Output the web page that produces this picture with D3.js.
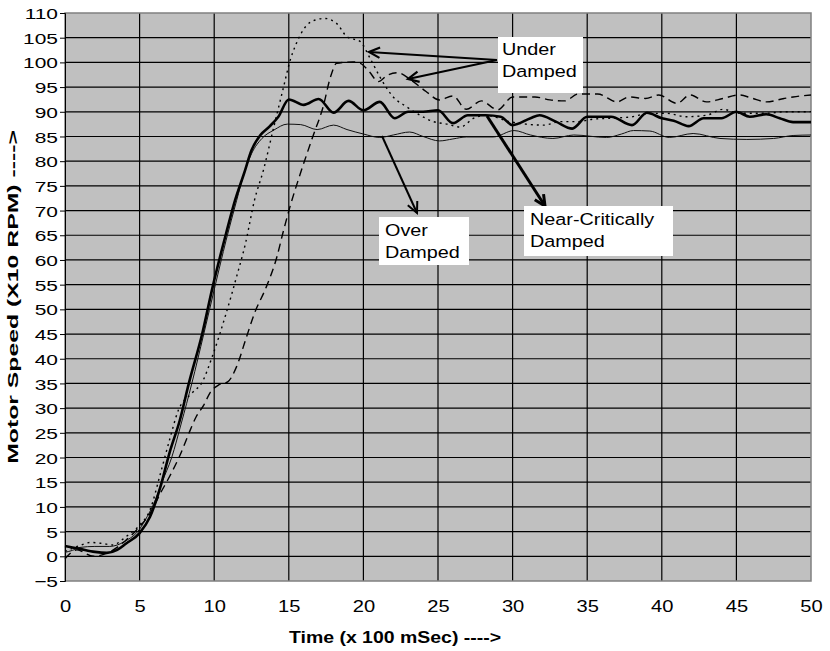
<!DOCTYPE html>
<html><head><meta charset="utf-8">
<script src="https://cdn.jsdelivr.net/npm/d3@7"></script>
<style>
body{margin:0;background:#fff;}
svg{display:block;font-family:"Liberation Sans",Arial,sans-serif;}
</style></head>
<body><svg id="c" width="830" height="651"></svg>
<script>
// ---- data ----
const xTicks = [0,5,10,15,20,25,30,35,40,45,50];
const yTicks = [-5,0,5,10,15,20,25,30,35,40,45,50,55,60,65,70,75,80,85,90,95,100,105,110];

const nearT = [0,1,2,2.8,3.5,4.1,5.0,5.7,6.4,7.0,7.7,8.3,9.2,9.9,10.8,11.4,12.0,12.5,13.1,13.7,14.3,15.0,16.0,17.0,18.0,19.0,20.0,21.1,22.1,23.0,24.0,25.0,26.0,27.0,28.2,29.2,30.0,31.2,31.8,32.9,34.0,35.0,36.6,38.0,39.0,40.0,40.8,41.8,42.8,44.0,45.0,45.9,47.0,47.9,48.8,50];
const nearV = [2.1,1.5,0.9,0.7,1.3,2.6,4.7,8.0,14.1,20.9,27.6,35.0,45.1,54.6,65.4,72.1,77.5,82.2,85.3,87.0,89.0,92.5,91.4,92.6,89.8,92.2,90.3,92.0,88.7,90.0,90.0,90.3,87.7,89.3,89.3,89.0,87.3,88.7,89.3,88.0,86.6,89.0,89.0,87.3,89.8,88.7,88.2,87.1,88.7,88.7,90.0,89.0,89.5,88.7,87.9,87.9];

const overT = [0,0.5,1,2,3,4,5,5.5,6,6.5,7.15,7.8,8.5,9.3,10.05,10.8,11.5,12.0,12.5,13.2,14.0,14.9,15.8,16.9,18.0,18.9,20.0,21.1,22.0,23.1,24.0,25.1,26.0,26.9,28.7,30.1,31.2,32.7,34.1,36.3,37.3,38.1,39.2,40.5,42.1,43.9,45.7,47.5,48.8,50];
const overV = [0.8,1.2,1.8,2.0,2.0,3.0,5.5,8.0,11.0,15.0,20.0,27.0,35.0,45.0,54.6,64.0,72.0,77.5,81.5,84.6,86.3,87.5,87.4,86.4,87.3,86.4,85.5,84.8,85.3,85.9,85.0,84.1,84.5,84.9,84.9,86.2,85.3,84.6,85.3,84.8,85.5,86.2,86.1,84.8,85.6,84.6,84.4,84.6,85.2,85.3];

const underAT = [0,0.5,1.0,1.7,2.5,3.2,4.1,5.0,5.7,6.4,7.0,7.6,8.5,9.2,9.9,10.8,11.5,12.1,12.7,13.3,14.0,14.6,15.1,15.5,16.2,16.8,17.4,18.2,18.9,19.8,20.4,21.1,22.0,22.9,23.8,24.7,25.6,26.5,27.4,28.2,29.8,30.9,32.1,33.2,34.3,35.4,36.6,38.0,39.0,40.3,41.6,43.0,44.1,45.2,47.0,48.2,50];
const underAV = [1.0,1.6,2.2,2.8,2.6,2.3,4.0,6.3,9.4,16.8,23.5,29.6,33.0,35.3,40.7,49.2,56.6,63.4,72.1,78.2,87.0,94.4,100.5,103.8,107.5,108.6,108.9,107.9,105.2,104.2,101.1,97.1,93.0,91.0,89.3,88.0,87.5,86.9,88.7,89.3,88.0,87.5,87.3,88.0,88.0,88.5,88.7,89.0,89.6,89.7,89.0,89.3,90.5,89.7,89.7,90.0,90.0];

const underBT = [0,0.8,1.9,3.0,4.1,5.0,5.7,6.4,7.0,7.7,8.4,8.8,9.3,9.7,10.3,10.9,11.5,12.1,12.7,13.5,14.2,14.6,15.1,15.7,16.6,17.3,17.8,18.2,19.3,19.8,20.4,21.0,21.6,22.3,23.2,24.2,25.1,26.0,26.9,27.9,29.0,30.0,31.5,32.5,33.5,34.4,35.7,37.0,37.8,38.9,39.8,41.0,41.9,43.0,44.1,45.2,46.0,47.0,48.2,48.8,50];
const underBV = [-0.5,1.3,0.0,0.9,3.3,6.0,8.7,12.8,16.1,20.4,25.6,28.3,30.6,33.0,34.7,35.3,38.4,43.8,49.2,54.6,60.6,65.4,71.0,76.8,84.9,91.0,97.1,99.8,100.1,99.8,98.1,96.1,97.4,97.9,96.4,94.1,92.4,93.2,90.5,92.2,90.4,93.0,93.0,92.4,92.2,93.6,93.6,92.0,93.0,92.7,93.4,91.7,93.4,92.0,92.7,93.4,92.8,92.0,92.7,93.0,93.4];

const xTitle = "Time (x 100 mSec) ---->";
const yTitle = "Motor Speed (X10 RPM) ---->";

// ---- chart ----
const svg = d3.select("#c");
const x = d3.scaleLinear().domain([0,50]).range([65,811]);
const y = d3.scaleLinear().domain([-5,110]).range([581,13]);

svg.append("rect").attr("x",x(0)).attr("y",y(110)).attr("width",x(50)-x(0)).attr("height",y(-5)-y(110))
  .attr("fill","#c0c0c0");

// grid
svg.append("g").selectAll("line").data(yTicks.filter(d=>d>-5&&d<110)).join("line")
  .attr("x1",x(0)).attr("x2",x(50)).attr("y1",d=>y(d)).attr("y2",d=>y(d))
  .attr("stroke","#000").attr("stroke-width",1.2);
svg.append("g").selectAll("line").data(xTicks.filter(d=>d>0&&d<50)).join("line")
  .attr("y1",y(-5)).attr("y2",y(110)).attr("x1",d=>x(d)).attr("x2",d=>x(d))
  .attr("stroke","#000").attr("stroke-width",1.2);

// border
svg.append("rect").attr("x",x(0)).attr("y",y(110)).attr("width",x(50)-x(0)).attr("height",y(-5)-y(110))
  .attr("fill","none").attr("stroke","#808080").attr("stroke-width",1.5);

// y axis
const ya = svg.append("g").attr("transform",`translate(${x(0)},0)`)
  .call(d3.axisLeft(y).tickValues(yTicks).tickSize(5).tickFormat(d3.format("d")));
ya.select(".domain").attr("stroke","#000");
ya.selectAll(".tick line").attr("stroke","#000");
ya.selectAll(".tick text").attr("font-size",15.5).attr("font-family","Liberation Sans, Arial, sans-serif")
  .attr("fill","#000").attr("x",-7/1.35).attr("dy","0.36em").attr("transform","scale(1.35,1)");

// x axis labels
const xa = svg.append("g").attr("transform",`translate(0,${y(-5)})`)
  .call(d3.axisBottom(x).tickValues(xTicks).tickSize(0));
xa.select(".domain").remove();
xa.selectAll(".tick text").attr("font-size",16.5).attr("font-family","Liberation Sans, Arial, sans-serif")
  .attr("fill","#000").attr("y",0).attr("dy",0).attr("transform","translate(0,31) scale(1.22,1)");

// titles
svg.append("text").attr("transform","translate(395,643) scale(1.18,1)").attr("text-anchor","middle")
  .attr("font-weight","bold").attr("font-size",16.5).text(xTitle);
svg.append("text").attr("transform",`translate(18,${(y(-5)+y(110))/2}) rotate(-90) scale(1.6,1)`).attr("text-anchor","middle")
  .attr("font-weight","bold").attr("font-size",15.5).text(yTitle);

// lines
const line = (T,V)=>d3.line().x((d,i)=>x(T[i])).y((d,i)=>y(V[i])).curve(d3.curveMonotoneX)(V);
svg.append("path").attr("d",line(overT,overV)).attr("fill","none").attr("stroke","#111").attr("stroke-width",1);
svg.append("path").attr("d",line(underBT,underBV)).attr("fill","none").attr("stroke","#000").attr("stroke-width",1.4).attr("stroke-dasharray","8,5");
svg.append("path").attr("d",line(underAT,underAV)).attr("fill","none").attr("stroke","#000").attr("stroke-width",1.4).attr("stroke-dasharray","2,4");
svg.append("path").attr("d",line(nearT,nearV)).attr("fill","none").attr("stroke","#000").attr("stroke-width",2.6);

// annotations
function arrow(x1,y1,x2,y2,w){
  svg.append("line").attr("x1",x1).attr("y1",y1).attr("x2",x2).attr("y2",y2).attr("stroke","#000").attr("stroke-width",w);
  const a = Math.atan2(y2-y1,x2-x1), L=12, s=0.45;
  const p = [[x2-L*Math.cos(a-s),y2-L*Math.sin(a-s)],[x2,y2],[x2-L*Math.cos(a+s),y2-L*Math.sin(a+s)]];
  svg.append("path").attr("d",d3.line()(p)).attr("fill","none").attr("stroke","#000").attr("stroke-width",w).attr("stroke-linejoin","miter");
}
function box(x0,y0,w,h,lines,tx,ty){
  svg.append("rect").attr("x",x0).attr("y",y0).attr("width",w).attr("height",h).attr("fill","#fff");
  lines.forEach((t,i)=>svg.append("text").attr("transform",`translate(${tx},${ty+i*22}) scale(1.2,1)`)
    .attr("font-size",16.5).attr("fill","#000").text(t));
}
arrow(497,60,369,52,2.2);
arrow(497,60,408,79,2.2);
box(498,37,85,56,["Under","Damped"],502,55);
arrow(382,136,417,213,2);
box(379,217,90,48,["Over","Damped"],385,236);
arrow(487,116,545,206,3);
box(524,206,149,50,["Near-Critically","Damped"],530,225);
</script></body></html>
